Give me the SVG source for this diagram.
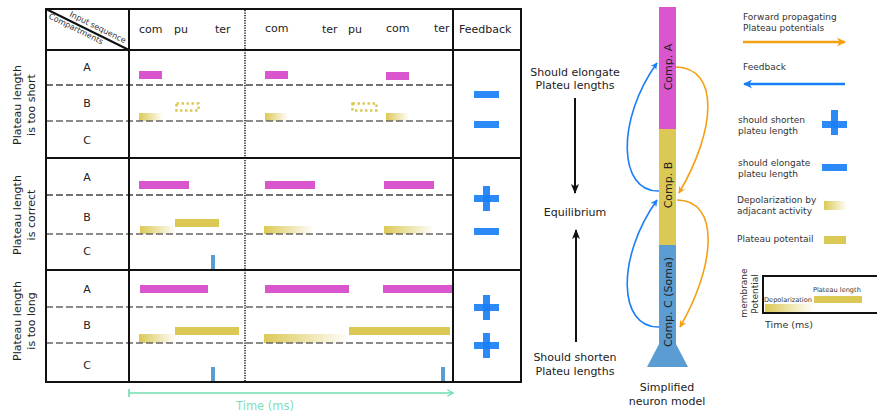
<svg xmlns="http://www.w3.org/2000/svg" width="877" height="414" viewBox="0 0 877 414">
  <style>
    text { font-family: "DejaVu Sans", Verdana, sans-serif; fill: #222; }
    .hd { font-size: 11px; }
    .lbl { font-size: 11px; text-anchor: middle; }
    .leg { font-size: 9px; fill: #333; }
    .tiny { font-size: 6.6px; fill: #333; }
    .grid { stroke: #111; stroke-width: 2; fill: none; }
    .dash { stroke: #444; stroke-width: 1.3; stroke-dasharray: 7 3; fill: none; }
    .dash2 { stroke: #666; stroke-width: 1.6; stroke-dasharray: 7 3; fill: none; }
    .pa { fill: #da56cf; }
    .pb { fill: #dcc955; }
    .dep { fill: url(#depol); }
    .tick { fill: #5b9dd3; }
    .fb { fill: #1a7ff7; opacity: 0.92; }
    .blue { stroke: #1a7ff7; stroke-width: 1.6; fill: none; }
    .orange { stroke: #f4a013; stroke-width: 1.6; fill: none; }
  </style>
  <defs>
    <linearGradient id="depol" x1="0" y1="0" x2="1" y2="0">
      <stop offset="0" stop-color="#dcc955"/>
      <stop offset="1" stop-color="#dcc955" stop-opacity="0"/>
    </linearGradient>
    <marker id="mBlue" viewBox="0 0 10 10" refX="9" refY="5" markerWidth="7" markerHeight="7" orient="auto" markerUnits="userSpaceOnUse">
      <path d="M0,0 L10,5 L0,10 L3,5 Z" fill="#1a7ff7"/>
    </marker>
    <marker id="mOrange" viewBox="0 0 10 10" refX="9" refY="5" markerWidth="7" markerHeight="7" orient="auto" markerUnits="userSpaceOnUse">
      <path d="M0,0 L10,5 L0,10 L3,5 Z" fill="#f4a013"/>
    </marker>
    <marker id="mBlueL" viewBox="0 0 10 10" refX="9" refY="5" markerWidth="11" markerHeight="9" orient="auto" markerUnits="userSpaceOnUse">
      <path d="M0,0 L10,5 L0,10 L3,5 Z" fill="#1a7ff7"/>
    </marker>
    <marker id="mOrangeL" viewBox="0 0 10 10" refX="9" refY="5" markerWidth="11" markerHeight="9" orient="auto" markerUnits="userSpaceOnUse">
      <path d="M0,0 L10,5 L0,10 L3,5 Z" fill="#f4a013"/>
    </marker>
    <marker id="mBlack" viewBox="0 0 10 10" refX="9" refY="5" markerWidth="10" markerHeight="10" orient="auto" markerUnits="userSpaceOnUse">
      <path d="M0,1 L10,5 L0,9 L2.5,5 Z" fill="#111"/>
    </marker>
    <marker id="mGreen" viewBox="0 0 10 10" refX="9" refY="5" markerWidth="8" markerHeight="8" orient="auto" markerUnits="userSpaceOnUse">
      <path d="M2,1 L9,5 L2,9" fill="none" stroke="#6fdcb0" stroke-width="1.6"/>
    </marker>
  </defs>

  <!-- ===== Table ===== -->
  <g id="table">
    <!-- bars, row 1: too short -->
    <g id="row-short">
      <rect class="pa" x="139" y="71" width="23" height="8"/>
      <rect class="dep" x="139" y="113" width="24" height="8"/>
      <rect x="176.5" y="103.5" width="22" height="7" fill="none" stroke="#dcc955" stroke-width="2.5" stroke-dasharray="2.5 2.5"/>
      <rect class="pa" x="265" y="71" width="23" height="8"/>
      <rect class="dep" x="265" y="113" width="23" height="8"/>
      <rect x="352.5" y="103.5" width="24" height="7" fill="none" stroke="#dcc955" stroke-width="2.5" stroke-dasharray="2.5 2.5"/>
      <rect class="pa" x="386" y="72" width="23" height="8"/>
      <rect class="dep" x="386" y="113" width="23" height="8"/>
      <rect class="fb" x="474" y="91" width="25" height="7"/>
      <rect class="fb" x="474" y="121" width="25" height="7"/>
    </g>
    <!-- bars, row 2: correct -->
    <g id="row-correct">
      <rect class="pa" x="139" y="181" width="50" height="8"/>
      <rect class="dep" x="140" y="226" width="36" height="8"/>
      <rect class="pb" x="175" y="219" width="44" height="8"/>
      <rect class="tick" x="211" y="255" width="4" height="15"/>
      <rect class="pa" x="265" y="181" width="50" height="8"/>
      <rect class="dep" x="264" y="226" width="50" height="8"/>
      <rect class="pa" x="384" y="181" width="50" height="8"/>
      <rect class="dep" x="384" y="226" width="50" height="8"/>
      <rect class="fb" x="474" y="195" width="25" height="7"/>
      <rect class="fb" x="483" y="186" width="7" height="25"/>
      <rect class="fb" x="474" y="228" width="25" height="7"/>
    </g>
    <!-- bars, row 3: too long -->
    <g id="row-long">
      <rect class="pa" x="140" y="285" width="68" height="8"/>
      <rect class="pb" x="175" y="327" width="64" height="8"/>
      <rect class="dep" x="139" y="334" width="37" height="9"/>
      <rect class="tick" x="211" y="367" width="4" height="15"/>
      <rect class="pa" x="265" y="285" width="84" height="8"/>
      <rect class="pa" x="383" y="285" width="71" height="8"/>
      <rect class="pb" x="349" y="327" width="101" height="8"/>
      <rect class="dep" x="264" y="334" width="85" height="9"/>
      <rect class="tick" x="441" y="367" width="4" height="15"/>
      <rect class="fb" x="474" y="304" width="25" height="7"/>
      <rect class="fb" x="483" y="295" width="7" height="25"/>
      <rect class="fb" x="474" y="342" width="25" height="7"/>
      <rect class="fb" x="483" y="333" width="7" height="25"/>
    </g>

    <!-- compartment separators -->
    <line class="dash" x1="46" y1="85" x2="453" y2="85"/>
    <line class="dash2" x1="46" y1="121" x2="453" y2="121"/>
    <line class="dash" x1="46" y1="195" x2="453" y2="195"/>
    <line class="dash2" x1="46" y1="234" x2="453" y2="234"/>
    <line class="dash2" x1="46" y1="307" x2="454" y2="307"/>
    <line class="dash2" x1="46" y1="343" x2="453" y2="343"/>

    <!-- dotted divider between input words -->
    <line x1="245" y1="10" x2="245" y2="382" stroke="#111" stroke-width="1.5" stroke-dasharray="1.2 1.3"/>

    <!-- grid -->
    <rect class="grid" x="46" y="9" width="475" height="373"/>
    <line class="grid" x1="129" y1="9" x2="129" y2="382"/>
    <line class="grid" x1="453" y1="9" x2="453" y2="382"/>
    <line class="grid" x1="46" y1="50" x2="521" y2="50"/>
    <line class="grid" x1="46" y1="158" x2="521" y2="158"/>
    <line class="grid" x1="46" y1="270" x2="521" y2="270" stroke="#333"/>
    <line x1="46" y1="9" x2="129" y2="50" stroke="#111" stroke-width="2"/>

    <!-- header -->
    <text transform="translate(69,16) rotate(26.3)" style="font-size:8px;fill:#333">Input sequence</text>
    <text transform="translate(48,18) rotate(26.3)" style="font-size:8px;fill:#333">Compartments</text>
    <text class="hd" x="139" y="33">com</text>
    <text class="hd" x="174" y="33">pu</text>
    <text class="hd" x="215" y="33">ter</text>
    <text class="hd" x="265" y="32">com</text>
    <text class="hd" x="322" y="33">ter</text>
    <text class="hd" x="348" y="33">pu</text>
    <text class="hd" x="386" y="32">com</text>
    <text class="hd" x="434" y="32">ter</text>
    <text class="hd" x="459" y="33">Feedback</text>

    <!-- compartment labels -->
    <text class="lbl" x="87" y="71">A</text>
    <text class="lbl" x="87" y="107">B</text>
    <text class="lbl" x="87" y="144">C</text>
    <text class="lbl" x="87" y="181">A</text>
    <text class="lbl" x="87" y="221">B</text>
    <text class="lbl" x="87" y="255">C</text>
    <text class="lbl" x="87" y="293">A</text>
    <text class="lbl" x="87" y="329">B</text>
    <text class="lbl" x="87" y="369">C</text>

    <!-- row titles -->
    <text class="lbl" transform="translate(20.5,105) rotate(-90)">Plateau length</text>
    <text class="lbl" transform="translate(35,105) rotate(-90)">is too short</text>
    <text class="lbl" transform="translate(20.5,215) rotate(-90)">Plateau length</text>
    <text class="lbl" transform="translate(35,215) rotate(-90)">is correct</text>
    <text class="lbl" transform="translate(20.5,321) rotate(-90)">Plateau length</text>
    <text class="lbl" transform="translate(35,321) rotate(-90)">is too long</text>

    <!-- time axis -->
    <line x1="129" y1="389" x2="129" y2="397" stroke="#6fdcb0" stroke-width="1.6"/>
    <line x1="129" y1="393" x2="453" y2="393" stroke="#6fdcb0" stroke-width="1.6" marker-end="url(#mGreen)"/>
    <text x="265" y="410" style="font-size:11.5px;fill:#7fe0bb;text-anchor:middle">Time (ms)</text>
  </g>

  <!-- ===== Equilibrium scale ===== -->
  <g id="equilibrium">
    <text class="lbl" x="575" y="76">Should elongate</text>
    <text class="lbl" x="575" y="89">Plateu lengths</text>
    <line x1="575" y1="98" x2="575" y2="193" stroke="#111" stroke-width="2" marker-end="url(#mBlack)"/>
    <text class="lbl" x="575" y="216">Equilibrium</text>
    <line x1="576" y1="342" x2="576" y2="230" stroke="#111" stroke-width="2" marker-end="url(#mBlack)"/>
    <text class="lbl" x="575" y="361">Should shorten</text>
    <text class="lbl" x="575" y="375">Plateu lengths</text>
  </g>

  <!-- ===== Neuron model ===== -->
  <g id="neuron">
    <rect x="659" y="7" width="17" height="122" fill="#da56cf"/>
    <rect x="659" y="129" width="17" height="116" fill="#dcc955"/>
    <rect x="659" y="245" width="17" height="100" fill="#5b9dd3"/>
    <path d="M659,344 L676,344 L688,367 L647,367 Z" fill="#5b9dd3"/>
    <text class="lbl" transform="translate(672,67) rotate(-90)">Comp. A</text>
    <text class="lbl" transform="translate(672,185) rotate(-90)">Comp. B</text>
    <text class="lbl" transform="translate(672,302) rotate(-90)">Comp. C (Soma)</text>
    <text class="lbl" x="667" y="391">Simplified</text>
    <text class="lbl" x="667" y="405">neuron model</text>
  </g>

  <!-- ===== Connectors ===== -->
  <g id="connectors">
    <path class="blue" d="M659,191 C618,192 616,120 657,63" marker-end="url(#mBlue)"/>
    <path class="blue" d="M659,327 C618,328 616,258 657,200" marker-end="url(#mBlue)"/>
    <path class="orange" d="M676,67 C720,68 716,130 679,193" marker-end="url(#mOrange)"/>
    <path class="orange" d="M677,200 C720,200 716,265 680,327" marker-end="url(#mOrange)"/>
  </g>

  <!-- ===== Legend ===== -->
  <g id="legend">
    <text class="leg" x="743" y="20">Forward propagating</text>
    <text class="leg" x="743" y="31">Plateau potentials</text>
    <line x1="743" y1="42" x2="845" y2="42" stroke="#f4a013" stroke-width="2.5" marker-end="url(#mOrangeL)"/>
    <text class="leg" x="743" y="70">Feedback</text>
    <line x1="845" y1="84" x2="744" y2="84" stroke="#1a7ff7" stroke-width="2.5" marker-end="url(#mBlueL)"/>
    <text class="leg" x="738" y="123">should shorten</text>
    <text class="leg" x="738" y="134">plateu length</text>
    <rect class="fb" x="822" y="121" width="25" height="7"/>
    <rect class="fb" x="831" y="110" width="7" height="25"/>
    <text class="leg" x="738" y="166">should elongate</text>
    <text class="leg" x="738" y="177">plateu length</text>
    <rect class="fb" x="822" y="164" width="25" height="7"/>
    <text class="leg" x="737" y="203">Depolarization by</text>
    <text class="leg" x="737" y="214">adjacant activity</text>
    <rect class="dep" x="824" y="201" width="23" height="9"/>
    <text class="leg" x="737" y="242">Plateau potentail</text>
    <rect class="pb" x="824" y="236" width="22" height="8"/>

    <!-- mini potential plot -->
    <rect x="763" y="276" width="130" height="37" fill="none" stroke="#111" stroke-width="2"/>
    <text class="leg" transform="translate(747,293) rotate(-90)" style="text-anchor:middle">membrane</text>
    <text class="leg" transform="translate(758,294) rotate(-90)" style="text-anchor:middle">Potential</text>
    <text class="tiny" x="764" y="302">Depolarization</text>
    <rect class="dep" x="765" y="304" width="49" height="8"/>
    <text class="tiny" x="813" y="292">Plateau length</text>
    <rect class="pb" x="814" y="296" width="48" height="7"/>
    <text class="leg" x="765" y="328" style="font-size:9.5px">Time (ms)</text>
  </g>
</svg>
